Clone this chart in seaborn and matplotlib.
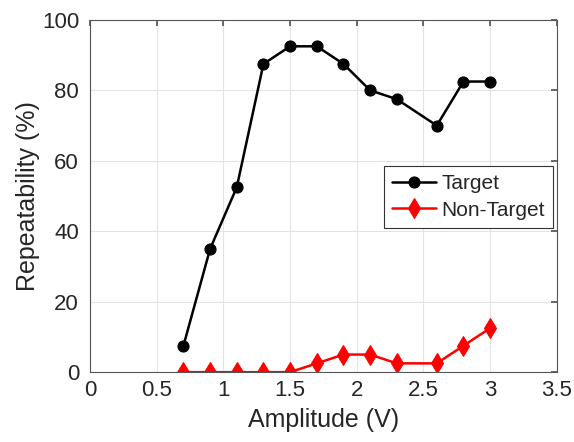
import matplotlib
matplotlib.use("Agg")
import matplotlib.pyplot as plt
import seaborn as sns
import pandas as pd

amplitude = [0.7, 0.9, 1.1, 1.3, 1.5, 1.7, 1.9, 2.1, 2.3, 2.6, 2.8, 3.0]
target = [7.5, 35, 52.5, 87.5, 92.5, 92.5, 87.5, 80, 77.5, 70, 82.5, 82.5]
non_target = [0, 0, 0, 0, 0, 2.5, 5, 5, 2.5, 2.5, 7.5, 12.5]
x_ticks = [0, 0.5, 1, 1.5, 2, 2.5, 3, 3.5]
y_ticks = [0, 20, 40, 60, 80, 100]

sns.set_theme(style="whitegrid")
plt.rcParams['font.family'] = ['Liberation Sans', 'DejaVu Sans']

fig = plt.figure(figsize=(5.74, 4.42), dpi=100)
ax = fig.add_axes([0.157, 0.158, 0.813, 0.797])

df_t = pd.DataFrame({"x": amplitude, "y": target})
df_n = pd.DataFrame({"x": amplitude, "y": non_target})
sns.lineplot(data=df_t, x="x", y="y", ax=ax, color="black", lw=1.8,
             marker="o", markersize=8, markeredgecolor="black", label="Target")
sns.lineplot(data=df_n, x="x", y="y", ax=ax, color="red", lw=1.8,
             marker="d", markersize=10, markeredgecolor="red", label="Non-Target")

ax.set_xlim(0, 3.5)
ax.set_ylim(0, 100)
ax.set_xticks(x_ticks)
ax.set_xticklabels(["0", "0.5", "1", "1.5", "2", "2.5", "3", "3.5"])
ax.set_yticks(y_ticks)
ax.tick_params(labelsize=16, colors="#262626", length=4, direction="in")
ax.tick_params(axis="x", pad=6)
ax.tick_params(axis="y", pad=8)
ax.tick_params(axis="both", which="both", top=True, right=True, color="#555555")
ax.grid(True, color="#e3e3e3", lw=0.8)
for s in ax.spines.values():
    s.set_color("#555555")
    s.set_linewidth(0.8)
ax.set_xlabel("Amplitude (V)", fontsize=18, color="#262626", labelpad=5)
ax.set_ylabel("Repeatability (%)", fontsize=18, color="#262626", labelpad=1)

leg = ax.legend(loc="upper left", bbox_to_anchor=(0.63, 0.585), fontsize=15,
                frameon=True, fancybox=False, framealpha=1, edgecolor="#333333",
                handlelength=2.1, handletextpad=0.25, borderpad=0.4, labelspacing=0.35,
                borderaxespad=0)
leg.get_frame().set_linewidth(0.8)

fig.savefig("out.png", dpi=100)
